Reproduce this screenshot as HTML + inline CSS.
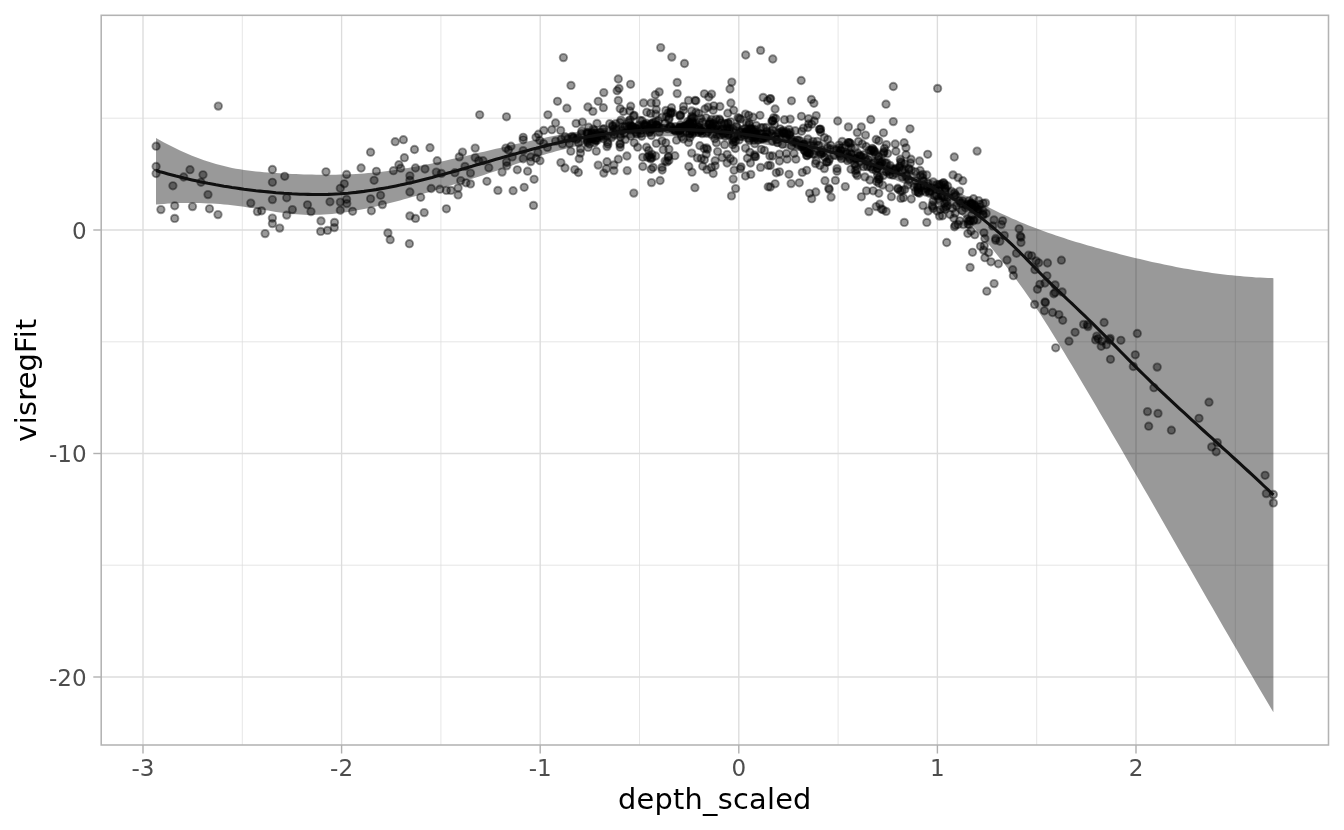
<!DOCTYPE html>
<html><head><meta charset="utf-8"><title>visregFit vs depth_scaled</title>
<style>
html,body{margin:0;padding:0;background:#fff;}
body{width:1344px;height:830px;overflow:hidden;font-family:"DejaVu Sans","Liberation Sans",sans-serif;}
svg{display:block}
svg text{font-family:"DejaVu Sans","Liberation Sans",sans-serif;}
.tk{font-size:23.04px;fill:#4d4d4d}
.tt{font-size:28.8px;fill:#000;letter-spacing:.25px}
.p circle{fill:#000;fill-opacity:.4;stroke:#000;stroke-opacity:.4;stroke-width:1.9}
</style></head><body>
<svg width="1344" height="830" viewBox="0 0 1344 830">
<rect width="1344" height="830" fill="#fff"/>
<g><line x1="242.3" x2="242.3" y1="15.3" y2="745.0" stroke="#dedede" stroke-width=".75"/><line x1="440.9" x2="440.9" y1="15.3" y2="745.0" stroke="#dedede" stroke-width=".75"/><line x1="639.5" x2="639.5" y1="15.3" y2="745.0" stroke="#dedede" stroke-width=".75"/><line x1="838.1" x2="838.1" y1="15.3" y2="745.0" stroke="#dedede" stroke-width=".75"/><line x1="1036.7" x2="1036.7" y1="15.3" y2="745.0" stroke="#dedede" stroke-width=".75"/><line x1="1235.3" x2="1235.3" y1="15.3" y2="745.0" stroke="#dedede" stroke-width=".75"/><line x1="101.2" x2="1328.5" y1="118.2" y2="118.2" stroke="#dedede" stroke-width=".75"/><line x1="101.2" x2="1328.5" y1="341.8" y2="341.8" stroke="#dedede" stroke-width=".75"/><line x1="101.2" x2="1328.5" y1="565.2" y2="565.2" stroke="#dedede" stroke-width=".75"/><line x1="143.0" x2="143.0" y1="15.3" y2="745.0" stroke="#dcdcdc" stroke-width="1.35"/><line x1="341.6" x2="341.6" y1="15.3" y2="745.0" stroke="#dcdcdc" stroke-width="1.35"/><line x1="540.2" x2="540.2" y1="15.3" y2="745.0" stroke="#dcdcdc" stroke-width="1.35"/><line x1="738.8" x2="738.8" y1="15.3" y2="745.0" stroke="#dcdcdc" stroke-width="1.35"/><line x1="937.4" x2="937.4" y1="15.3" y2="745.0" stroke="#dcdcdc" stroke-width="1.35"/><line x1="1136.0" x2="1136.0" y1="15.3" y2="745.0" stroke="#dcdcdc" stroke-width="1.35"/><line x1="101.2" x2="1328.5" y1="230.0" y2="230.0" stroke="#dcdcdc" stroke-width="1.35"/><line x1="101.2" x2="1328.5" y1="453.5" y2="453.5" stroke="#dcdcdc" stroke-width="1.35"/><line x1="101.2" x2="1328.5" y1="677.0" y2="677.0" stroke="#dcdcdc" stroke-width="1.35"/></g>
<path d="M156.0,138.0 L160.0,140.2 L164.0,142.4 L168.0,144.5 L172.0,146.5 L176.0,148.5 L180.0,150.4 L184.0,152.2 L188.0,154.0 L192.0,155.7 L196.0,157.3 L200.0,158.8 L204.0,160.2 L208.0,161.6 L212.0,162.8 L216.0,164.0 L220.0,165.1 L224.0,166.1 L228.0,167.1 L232.0,167.9 L236.0,168.7 L240.0,169.3 L244.0,169.9 L248.0,170.5 L252.0,171.0 L256.0,171.4 L260.0,171.8 L264.0,172.2 L268.0,172.5 L272.0,172.8 L276.0,173.0 L280.0,173.3 L284.0,173.5 L288.0,173.7 L292.0,173.9 L296.0,174.1 L300.0,174.3 L304.0,174.4 L308.0,174.5 L312.0,174.6 L316.0,174.7 L320.0,174.8 L324.0,174.8 L328.0,174.8 L332.0,174.8 L336.0,174.7 L340.0,174.6 L344.0,174.5 L348.0,174.4 L352.0,174.2 L356.0,174.0 L360.0,173.7 L364.0,173.5 L368.0,173.1 L372.0,172.8 L376.0,172.4 L380.0,171.9 L384.0,171.4 L388.0,170.9 L392.0,170.4 L396.0,169.8 L400.0,169.2 L404.0,168.6 L408.0,167.9 L412.0,167.2 L416.0,166.5 L420.0,165.8 L424.0,165.0 L428.0,164.2 L432.0,163.4 L436.0,162.6 L440.0,161.7 L444.0,160.9 L448.0,160.0 L452.0,159.1 L456.0,158.2 L460.0,157.3 L464.0,156.4 L468.0,155.4 L472.0,154.5 L476.0,153.6 L480.0,152.6 L484.0,151.7 L488.0,150.7 L492.0,149.8 L496.0,148.8 L500.0,147.9 L504.0,146.9 L508.0,146.0 L512.0,145.0 L516.0,144.1 L520.0,143.2 L524.0,142.3 L528.0,141.4 L532.0,140.5 L536.0,139.6 L540.0,138.7 L544.0,137.9 L548.0,137.1 L552.0,136.3 L556.0,135.5 L560.0,134.7 L564.0,134.0 L568.0,133.2 L572.0,132.5 L576.0,131.9 L580.0,131.2 L584.0,130.6 L588.0,130.0 L592.0,129.5 L596.0,128.9 L600.0,128.4 L604.0,127.9 L608.0,127.5 L612.0,127.0 L616.0,126.6 L620.0,126.3 L624.0,125.9 L628.0,125.6 L632.0,125.3 L636.0,125.0 L640.0,124.7 L644.0,124.5 L648.0,124.3 L652.0,124.2 L656.0,124.0 L660.0,123.9 L664.0,123.8 L668.0,123.7 L672.0,123.7 L676.0,123.7 L680.0,123.7 L684.0,123.8 L688.0,123.8 L692.0,123.9 L696.0,124.1 L700.0,124.2 L704.0,124.4 L708.0,124.6 L712.0,124.8 L716.0,125.1 L720.0,125.4 L724.0,125.7 L728.0,126.0 L732.0,126.4 L736.0,126.8 L740.0,127.2 L744.0,127.7 L748.0,128.1 L752.0,128.6 L756.0,129.2 L760.0,129.7 L764.0,130.3 L768.0,130.9 L772.0,131.6 L776.0,132.2 L780.0,132.9 L784.0,133.7 L788.0,134.4 L792.0,135.2 L796.0,136.0 L800.0,136.8 L804.0,137.7 L808.0,138.6 L812.0,139.5 L816.0,140.4 L820.0,141.4 L824.0,142.4 L828.0,143.4 L832.0,144.5 L836.0,145.6 L840.0,146.7 L844.0,147.8 L848.0,149.0 L852.0,150.2 L856.0,151.4 L860.0,152.6 L864.0,153.9 L868.0,155.2 L872.0,156.6 L876.0,157.9 L880.0,159.3 L884.0,160.7 L888.0,162.2 L892.0,163.7 L896.0,165.2 L900.0,166.7 L904.0,168.2 L908.0,169.8 L912.0,171.5 L916.0,173.1 L920.0,174.8 L924.0,176.5 L928.0,178.2 L932.0,180.0 L936.0,181.7 L940.0,183.5 L944.0,185.4 L948.0,187.2 L952.0,189.1 L956.0,191.0 L960.0,193.0 L964.0,195.0 L968.0,197.0 L972.0,199.0 L976.0,201.0 L980.0,203.0 L984.0,205.0 L988.0,207.0 L992.0,209.0 L996.0,211.0 L1000.0,212.9 L1004.0,214.7 L1008.0,216.6 L1012.0,218.4 L1016.0,220.1 L1020.0,221.9 L1024.0,223.5 L1028.0,225.2 L1032.0,226.7 L1036.0,228.3 L1040.0,229.8 L1044.0,231.3 L1048.0,232.7 L1052.0,234.1 L1056.0,235.5 L1060.0,236.8 L1064.0,238.1 L1068.0,239.4 L1072.0,240.7 L1076.0,241.9 L1080.0,243.1 L1084.0,244.3 L1088.0,245.4 L1092.0,246.6 L1096.0,247.7 L1100.0,248.8 L1104.0,249.9 L1108.0,251.0 L1112.0,252.1 L1116.0,253.1 L1120.0,254.2 L1124.0,255.2 L1128.0,256.2 L1132.0,257.2 L1136.0,258.2 L1140.0,259.1 L1144.0,260.1 L1148.0,261.0 L1152.0,261.9 L1156.0,262.8 L1160.0,263.6 L1164.0,264.5 L1168.0,265.3 L1172.0,266.1 L1176.0,266.9 L1180.0,267.7 L1184.0,268.4 L1188.0,269.1 L1192.0,269.8 L1196.0,270.5 L1200.0,271.1 L1204.0,271.7 L1208.0,272.3 L1212.0,272.9 L1216.0,273.4 L1220.0,274.0 L1224.0,274.4 L1228.0,274.9 L1232.0,275.3 L1236.0,275.8 L1240.0,276.1 L1244.0,276.5 L1248.0,276.8 L1252.0,277.1 L1256.0,277.4 L1260.0,277.6 L1264.0,277.8 L1268.0,278.0 L1272.0,278.1 L1273.4,278.2 L1273.4,712.3 L1272.0,709.9 L1268.0,703.2 L1264.0,696.4 L1260.0,689.7 L1256.0,682.9 L1252.0,676.0 L1248.0,669.2 L1244.0,662.4 L1240.0,655.5 L1236.0,648.6 L1232.0,641.7 L1228.0,634.8 L1224.0,627.9 L1220.0,621.0 L1216.0,614.1 L1212.0,607.1 L1208.0,600.2 L1204.0,593.2 L1200.0,586.3 L1196.0,579.3 L1192.0,572.3 L1188.0,565.3 L1184.0,558.4 L1180.0,551.4 L1176.0,544.4 L1172.0,537.4 L1168.0,530.5 L1164.0,523.5 L1160.0,516.5 L1156.0,509.5 L1152.0,502.6 L1148.0,495.6 L1144.0,488.7 L1140.0,481.7 L1136.0,474.8 L1132.0,467.9 L1128.0,460.9 L1124.0,454.0 L1120.0,447.1 L1116.0,440.2 L1112.0,433.4 L1108.0,426.5 L1104.0,419.7 L1100.0,412.9 L1096.0,406.1 L1092.0,399.3 L1088.0,392.5 L1084.0,385.8 L1080.0,379.0 L1076.0,372.3 L1072.0,365.6 L1068.0,359.0 L1064.0,352.3 L1060.0,345.7 L1056.0,339.2 L1052.0,332.7 L1048.0,326.2 L1044.0,319.9 L1040.0,313.7 L1036.0,307.7 L1032.0,301.7 L1028.0,295.9 L1024.0,290.3 L1020.0,284.7 L1016.0,279.3 L1012.0,274.0 L1008.0,268.7 L1004.0,263.6 L1000.0,258.5 L996.0,253.5 L992.0,248.5 L988.0,243.6 L984.0,238.8 L980.0,234.0 L976.0,229.4 L972.0,225.1 L968.0,221.0 L964.0,217.3 L960.0,213.9 L956.0,210.9 L952.0,208.1 L948.0,205.6 L944.0,203.2 L940.0,201.0 L936.0,198.9 L932.0,196.8 L928.0,194.8 L924.0,192.8 L920.0,190.9 L916.0,189.0 L912.0,187.2 L908.0,185.4 L904.0,183.6 L900.0,181.9 L896.0,180.3 L892.0,178.6 L888.0,177.1 L884.0,175.5 L880.0,174.1 L876.0,172.6 L872.0,171.2 L868.0,169.8 L864.0,168.5 L860.0,167.2 L856.0,165.9 L852.0,164.7 L848.0,163.4 L844.0,162.3 L840.0,161.1 L836.0,160.0 L832.0,158.9 L828.0,157.9 L824.0,156.9 L820.0,155.9 L816.0,154.9 L812.0,153.9 L808.0,153.0 L804.0,152.1 L800.0,151.2 L796.0,150.4 L792.0,149.5 L788.0,148.7 L784.0,147.9 L780.0,147.2 L776.0,146.4 L772.0,145.7 L768.0,145.0 L764.0,144.3 L760.0,143.7 L756.0,143.0 L752.0,142.4 L748.0,141.9 L744.0,141.3 L740.0,140.8 L736.0,140.3 L732.0,139.8 L728.0,139.4 L724.0,139.0 L720.0,138.6 L716.0,138.2 L712.0,137.9 L708.0,137.6 L704.0,137.3 L700.0,137.1 L696.0,136.9 L692.0,136.7 L688.0,136.5 L684.0,136.4 L680.0,136.3 L676.0,136.3 L672.0,136.2 L668.0,136.2 L664.0,136.3 L660.0,136.4 L656.0,136.5 L652.0,136.6 L648.0,136.8 L644.0,137.0 L640.0,137.3 L636.0,137.5 L632.0,137.9 L628.0,138.2 L624.0,138.6 L620.0,139.1 L616.0,139.5 L612.0,140.0 L608.0,140.6 L604.0,141.1 L600.0,141.8 L596.0,142.4 L592.0,143.1 L588.0,143.9 L584.0,144.6 L580.0,145.5 L576.0,146.3 L572.0,147.2 L568.0,148.2 L564.0,149.2 L560.0,150.2 L556.0,151.3 L552.0,152.4 L548.0,153.5 L544.0,154.7 L540.0,156.0 L536.0,157.3 L532.0,158.6 L528.0,160.0 L524.0,161.3 L520.0,162.7 L516.0,164.1 L512.0,165.5 L508.0,166.9 L504.0,168.2 L500.0,169.6 L496.0,170.9 L492.0,172.3 L488.0,173.6 L484.0,174.9 L480.0,176.2 L476.0,177.5 L472.0,178.7 L468.0,180.0 L464.0,181.3 L460.0,182.5 L456.0,183.8 L452.0,185.0 L448.0,186.3 L444.0,187.5 L440.0,188.7 L436.0,189.9 L432.0,191.2 L428.0,192.4 L424.0,193.5 L420.0,194.7 L416.0,195.9 L412.0,197.0 L408.0,198.2 L404.0,199.3 L400.0,200.4 L396.0,201.4 L392.0,202.5 L388.0,203.5 L384.0,204.5 L380.0,205.5 L376.0,206.4 L372.0,207.3 L368.0,208.2 L364.0,209.0 L360.0,209.8 L356.0,210.6 L352.0,211.2 L348.0,211.9 L344.0,212.5 L340.0,213.0 L336.0,213.5 L332.0,213.9 L328.0,214.2 L324.0,214.5 L320.0,214.7 L316.0,214.8 L312.0,214.9 L308.0,214.9 L304.0,214.8 L300.0,214.6 L296.0,214.3 L292.0,213.9 L288.0,213.5 L284.0,213.0 L280.0,212.5 L276.0,211.9 L272.0,211.3 L268.0,210.6 L264.0,210.0 L260.0,209.3 L256.0,208.6 L252.0,208.0 L248.0,207.4 L244.0,206.8 L240.0,206.2 L236.0,205.7 L232.0,205.3 L228.0,204.8 L224.0,204.5 L220.0,204.1 L216.0,203.8 L212.0,203.6 L208.0,203.4 L204.0,203.2 L200.0,203.1 L196.0,203.0 L192.0,203.0 L188.0,203.0 L184.0,203.0 L180.0,203.1 L176.0,203.3 L172.0,203.4 L168.0,203.6 L164.0,203.9 L160.0,204.2 L156.0,204.5Z" fill="#000" fill-opacity=".4"/>
<g class="p"><circle cx="218.3" cy="106.1" r="3.7"/><circle cx="156.1" cy="146.2" r="3.7"/><circle cx="156.1" cy="166.5" r="3.7"/><circle cx="156.1" cy="173.5" r="3.7"/><circle cx="190.0" cy="169.7" r="3.7"/><circle cx="183.7" cy="177.0" r="3.7"/><circle cx="203.0" cy="174.8" r="3.7"/><circle cx="201.0" cy="182.3" r="3.7"/><circle cx="172.9" cy="185.8" r="3.7"/><circle cx="208.0" cy="194.6" r="3.7"/><circle cx="160.9" cy="209.6" r="3.7"/><circle cx="174.7" cy="205.8" r="3.7"/><circle cx="174.7" cy="218.4" r="3.7"/><circle cx="192.5" cy="206.6" r="3.7"/><circle cx="209.5" cy="208.8" r="3.7"/><circle cx="218.0" cy="214.6" r="3.7"/><circle cx="272.4" cy="169.5" r="3.7"/><circle cx="284.7" cy="176.3" r="3.7"/><circle cx="272.4" cy="182.3" r="3.7"/><circle cx="272.4" cy="199.6" r="3.7"/><circle cx="286.7" cy="197.8" r="3.7"/><circle cx="250.8" cy="203.1" r="3.7"/><circle cx="257.4" cy="211.6" r="3.7"/><circle cx="261.6" cy="210.8" r="3.7"/><circle cx="292.4" cy="209.6" r="3.7"/><circle cx="286.7" cy="215.1" r="3.7"/><circle cx="272.4" cy="218.1" r="3.7"/><circle cx="272.4" cy="223.6" r="3.7"/><circle cx="279.7" cy="228.1" r="3.7"/><circle cx="265.1" cy="233.6" r="3.7"/><circle cx="307.5" cy="204.8" r="3.7"/><circle cx="311.0" cy="211.6" r="3.7"/><circle cx="326.0" cy="171.8" r="3.7"/><circle cx="330.0" cy="201.8" r="3.7"/><circle cx="321.0" cy="220.9" r="3.7"/><circle cx="320.7" cy="231.4" r="3.7"/><circle cx="327.5" cy="230.4" r="3.7"/><circle cx="334.5" cy="222.4" r="3.7"/><circle cx="334.3" cy="227.6" r="3.7"/><circle cx="346.6" cy="174.5" r="3.7"/><circle cx="344.3" cy="183.8" r="3.7"/><circle cx="340.3" cy="188.3" r="3.7"/><circle cx="346.6" cy="199.3" r="3.7"/><circle cx="340.3" cy="202.1" r="3.7"/><circle cx="346.8" cy="203.6" r="3.7"/><circle cx="340.3" cy="210.3" r="3.7"/><circle cx="352.6" cy="211.3" r="3.7"/><circle cx="361.1" cy="168.0" r="3.7"/><circle cx="370.6" cy="152.2" r="3.7"/><circle cx="376.4" cy="171.3" r="3.7"/><circle cx="374.1" cy="180.3" r="3.7"/><circle cx="370.6" cy="198.8" r="3.7"/><circle cx="380.6" cy="195.3" r="3.7"/><circle cx="382.4" cy="204.6" r="3.7"/><circle cx="371.4" cy="210.8" r="3.7"/><circle cx="387.9" cy="232.9" r="3.7"/><circle cx="390.2" cy="239.7" r="3.7"/><circle cx="395.2" cy="141.7" r="3.7"/><circle cx="403.4" cy="139.7" r="3.7"/><circle cx="404.4" cy="157.7" r="3.7"/><circle cx="398.9" cy="164.7" r="3.7"/><circle cx="393.4" cy="170.7" r="3.7"/><circle cx="400.7" cy="168.2" r="3.7"/><circle cx="414.5" cy="149.5" r="3.7"/><circle cx="415.5" cy="168.0" r="3.7"/><circle cx="409.9" cy="175.8" r="3.7"/><circle cx="409.9" cy="180.3" r="3.7"/><circle cx="409.9" cy="192.0" r="3.7"/><circle cx="420.7" cy="197.3" r="3.7"/><circle cx="409.9" cy="215.9" r="3.7"/><circle cx="415.5" cy="218.4" r="3.7"/><circle cx="424.2" cy="212.6" r="3.7"/><circle cx="409.4" cy="243.7" r="3.7"/><circle cx="430.0" cy="147.7" r="3.7"/><circle cx="425.0" cy="169.0" r="3.7"/><circle cx="431.2" cy="188.5" r="3.7"/><circle cx="437.2" cy="160.7" r="3.7"/><circle cx="436.3" cy="172.1" r="3.7"/><circle cx="441.4" cy="173.4" r="3.7"/><circle cx="439.9" cy="189.2" r="3.7"/><circle cx="446.4" cy="190.4" r="3.7"/><circle cx="450.9" cy="190.4" r="3.7"/><circle cx="458.1" cy="187.9" r="3.7"/><circle cx="458.1" cy="194.9" r="3.7"/><circle cx="446.4" cy="208.8" r="3.7"/><circle cx="459.3" cy="156.9" r="3.7"/><circle cx="462.5" cy="152.1" r="3.7"/><circle cx="465.0" cy="166.4" r="3.7"/><circle cx="470.5" cy="173.1" r="3.7"/><circle cx="454.9" cy="172.7" r="3.7"/><circle cx="460.7" cy="180.6" r="3.7"/><circle cx="466.0" cy="182.8" r="3.7"/><circle cx="470.5" cy="183.9" r="3.7"/><circle cx="475.2" cy="148.1" r="3.7"/><circle cx="475.2" cy="157.6" r="3.7"/><circle cx="478.7" cy="160.7" r="3.7"/><circle cx="483.1" cy="160.7" r="3.7"/><circle cx="479.7" cy="114.8" r="3.7"/><circle cx="488.8" cy="167.7" r="3.7"/><circle cx="486.9" cy="181.3" r="3.7"/><circle cx="497.9" cy="190.4" r="3.7"/><circle cx="502.1" cy="172.1" r="3.7"/><circle cx="506.5" cy="116.8" r="3.7"/><circle cx="505.9" cy="148.1" r="3.7"/><circle cx="511.0" cy="146.2" r="3.7"/><circle cx="508.4" cy="150.0" r="3.7"/><circle cx="512.2" cy="156.9" r="3.7"/><circle cx="506.5" cy="162.0" r="3.7"/><circle cx="506.8" cy="165.8" r="3.7"/><circle cx="517.3" cy="169.8" r="3.7"/><circle cx="513.1" cy="190.7" r="3.7"/><circle cx="523.2" cy="137.3" r="3.7"/><circle cx="523.2" cy="139.8" r="3.7"/><circle cx="523.2" cy="150.6" r="3.7"/><circle cx="523.2" cy="158.8" r="3.7"/><circle cx="527.6" cy="171.2" r="3.7"/><circle cx="530.8" cy="156.9" r="3.7"/><circle cx="530.8" cy="161.6" r="3.7"/><circle cx="524.2" cy="187.3" r="3.7"/><circle cx="534.1" cy="179.3" r="3.7"/><circle cx="533.5" cy="205.4" r="3.7"/><circle cx="536.0" cy="137.3" r="3.7"/><circle cx="538.5" cy="134.2" r="3.7"/><circle cx="539.8" cy="140.5" r="3.7"/><circle cx="537.9" cy="152.5" r="3.7"/><circle cx="536.0" cy="158.2" r="3.7"/><circle cx="540.0" cy="160.7" r="3.7"/><circle cx="543.8" cy="130.4" r="3.7"/><circle cx="543.6" cy="143.6" r="3.7"/><circle cx="547.4" cy="147.4" r="3.7"/><circle cx="547.9" cy="114.8" r="3.7"/><circle cx="551.8" cy="129.7" r="3.7"/><circle cx="555.6" cy="123.0" r="3.7"/><circle cx="560.7" cy="130.4" r="3.7"/><circle cx="557.5" cy="101.3" r="3.7"/><circle cx="566.9" cy="108.2" r="3.7"/><circle cx="555.6" cy="141.1" r="3.7"/><circle cx="561.3" cy="139.2" r="3.7"/><circle cx="565.1" cy="136.7" r="3.7"/><circle cx="560.9" cy="162.6" r="3.7"/><circle cx="565.0" cy="168.0" r="3.7"/><circle cx="569.5" cy="143.6" r="3.7"/><circle cx="570.8" cy="151.2" r="3.7"/><circle cx="574.8" cy="169.6" r="3.7"/><circle cx="578.4" cy="172.5" r="3.7"/><circle cx="576.1" cy="123.4" r="3.7"/><circle cx="582.4" cy="122.1" r="3.7"/><circle cx="581.8" cy="131.0" r="3.7"/><circle cx="578.0" cy="137.9" r="3.7"/><circle cx="578.6" cy="143.0" r="3.7"/><circle cx="580.5" cy="148.7" r="3.7"/><circle cx="580.5" cy="153.1" r="3.7"/><circle cx="588.1" cy="147.4" r="3.7"/><circle cx="587.9" cy="107.0" r="3.7"/><circle cx="592.9" cy="111.4" r="3.7"/><circle cx="598.2" cy="101.3" r="3.7"/><circle cx="597.0" cy="123.4" r="3.7"/><circle cx="593.2" cy="129.1" r="3.7"/><circle cx="595.7" cy="132.9" r="3.7"/><circle cx="593.2" cy="137.9" r="3.7"/><circle cx="597.0" cy="140.5" r="3.7"/><circle cx="596.3" cy="151.2" r="3.7"/><circle cx="598.2" cy="165.1" r="3.7"/><circle cx="588.7" cy="127.2" r="3.7"/><circle cx="591.9" cy="135.4" r="3.7"/><circle cx="594.4" cy="130.4" r="3.7"/><circle cx="660.7" cy="47.6" r="3.7"/><circle cx="671.8" cy="57.1" r="3.7"/><circle cx="684.5" cy="63.5" r="3.7"/><circle cx="745.7" cy="55.0" r="3.7"/><circle cx="760.6" cy="50.4" r="3.7"/><circle cx="618.3" cy="79.0" r="3.7"/><circle cx="630.6" cy="84.3" r="3.7"/><circle cx="619.0" cy="88.5" r="3.7"/><circle cx="617.1" cy="90.7" r="3.7"/><circle cx="603.8" cy="92.6" r="3.7"/><circle cx="618.3" cy="100.4" r="3.7"/><circle cx="603.4" cy="107.7" r="3.7"/><circle cx="620.2" cy="108.7" r="3.7"/><circle cx="630.7" cy="106.2" r="3.7"/><circle cx="623.4" cy="111.5" r="3.7"/><circle cx="629.7" cy="110.9" r="3.7"/><circle cx="634.2" cy="115.3" r="3.7"/><circle cx="677.2" cy="82.4" r="3.7"/><circle cx="677.2" cy="93.6" r="3.7"/><circle cx="659.2" cy="91.9" r="3.7"/><circle cx="655.3" cy="94.7" r="3.7"/><circle cx="643.6" cy="102.9" r="3.7"/><circle cx="651.2" cy="102.9" r="3.7"/><circle cx="656.3" cy="102.9" r="3.7"/><circle cx="656.3" cy="109.6" r="3.7"/><circle cx="646.8" cy="112.2" r="3.7"/><circle cx="650.6" cy="113.4" r="3.7"/><circle cx="655.7" cy="114.1" r="3.7"/><circle cx="662.2" cy="117.2" r="3.7"/><circle cx="671.5" cy="107.7" r="3.7"/><circle cx="668.3" cy="112.8" r="3.7"/><circle cx="672.7" cy="112.8" r="3.7"/><circle cx="679.7" cy="115.3" r="3.7"/><circle cx="683.5" cy="106.5" r="3.7"/><circle cx="683.5" cy="110.3" r="3.7"/><circle cx="688.5" cy="100.4" r="3.7"/><circle cx="695.1" cy="100.4" r="3.7"/><circle cx="695.9" cy="100.8" r="3.7"/><circle cx="691.7" cy="110.9" r="3.7"/><circle cx="696.1" cy="112.2" r="3.7"/><circle cx="698.7" cy="113.4" r="3.7"/><circle cx="704.4" cy="93.8" r="3.7"/><circle cx="708.8" cy="97.0" r="3.7"/><circle cx="711.6" cy="94.1" r="3.7"/><circle cx="705.0" cy="109.0" r="3.7"/><circle cx="708.1" cy="107.1" r="3.7"/><circle cx="713.8" cy="105.8" r="3.7"/><circle cx="719.9" cy="106.5" r="3.7"/><circle cx="713.2" cy="110.3" r="3.7"/><circle cx="706.0" cy="117.8" r="3.7"/><circle cx="719.5" cy="119.1" r="3.7"/><circle cx="731.8" cy="82.1" r="3.7"/><circle cx="730.0" cy="89.0" r="3.7"/><circle cx="730.9" cy="103.0" r="3.7"/><circle cx="733.7" cy="110.3" r="3.7"/><circle cx="727.8" cy="113.2" r="3.7"/><circle cx="763.2" cy="97.4" r="3.7"/><circle cx="767.6" cy="100.8" r="3.7"/><circle cx="770.0" cy="98.9" r="3.7"/><circle cx="745.5" cy="114.1" r="3.7"/><circle cx="748.6" cy="115.3" r="3.7"/><circle cx="760.0" cy="115.3" r="3.7"/><circle cx="739.1" cy="118.5" r="3.7"/><circle cx="753.0" cy="117.2" r="3.7"/><circle cx="607.0" cy="146.6" r="3.7"/><circle cx="607.0" cy="161.7" r="3.7"/><circle cx="603.8" cy="173.1" r="3.7"/><circle cx="606.3" cy="168.7" r="3.7"/><circle cx="613.9" cy="164.9" r="3.7"/><circle cx="613.9" cy="170.6" r="3.7"/><circle cx="618.3" cy="159.2" r="3.7"/><circle cx="626.9" cy="156.0" r="3.7"/><circle cx="627.2" cy="170.6" r="3.7"/><circle cx="633.8" cy="193.1" r="3.7"/><circle cx="620.2" cy="143.4" r="3.7"/><circle cx="620.2" cy="147.2" r="3.7"/><circle cx="634.2" cy="142.8" r="3.7"/><circle cx="637.7" cy="147.2" r="3.7"/><circle cx="625.3" cy="139.6" r="3.7"/><circle cx="642.8" cy="157.3" r="3.7"/><circle cx="642.8" cy="166.5" r="3.7"/><circle cx="646.5" cy="147.2" r="3.7"/><circle cx="648.7" cy="150.4" r="3.7"/><circle cx="651.9" cy="154.2" r="3.7"/><circle cx="647.4" cy="157.3" r="3.7"/><circle cx="651.9" cy="157.9" r="3.7"/><circle cx="655.7" cy="156.0" r="3.7"/><circle cx="651.2" cy="169.3" r="3.7"/><circle cx="653.1" cy="167.4" r="3.7"/><circle cx="662.0" cy="167.4" r="3.7"/><circle cx="662.2" cy="170.0" r="3.7"/><circle cx="651.5" cy="182.6" r="3.7"/><circle cx="660.1" cy="180.5" r="3.7"/><circle cx="656.3" cy="143.4" r="3.7"/><circle cx="663.2" cy="149.7" r="3.7"/><circle cx="668.9" cy="149.3" r="3.7"/><circle cx="665.8" cy="142.8" r="3.7"/><circle cx="674.9" cy="155.7" r="3.7"/><circle cx="668.3" cy="157.3" r="3.7"/><circle cx="665.1" cy="161.1" r="3.7"/><circle cx="668.9" cy="160.5" r="3.7"/><circle cx="676.5" cy="140.2" r="3.7"/><circle cx="662.0" cy="140.9" r="3.7"/><circle cx="683.5" cy="139.0" r="3.7"/><circle cx="688.5" cy="142.5" r="3.7"/><circle cx="691.7" cy="153.1" r="3.7"/><circle cx="699.9" cy="145.7" r="3.7"/><circle cx="707.5" cy="149.3" r="3.7"/><circle cx="706.2" cy="154.2" r="3.7"/><circle cx="697.4" cy="157.9" r="3.7"/><circle cx="701.2" cy="158.6" r="3.7"/><circle cx="704.4" cy="159.8" r="3.7"/><circle cx="688.8" cy="166.5" r="3.7"/><circle cx="692.0" cy="172.2" r="3.7"/><circle cx="702.7" cy="166.2" r="3.7"/><circle cx="706.9" cy="169.6" r="3.7"/><circle cx="711.3" cy="167.4" r="3.7"/><circle cx="715.1" cy="165.8" r="3.7"/><circle cx="713.2" cy="173.5" r="3.7"/><circle cx="715.1" cy="160.7" r="3.7"/><circle cx="694.9" cy="187.7" r="3.7"/><circle cx="717.6" cy="151.6" r="3.7"/><circle cx="716.4" cy="142.8" r="3.7"/><circle cx="722.1" cy="157.6" r="3.7"/><circle cx="727.1" cy="154.4" r="3.7"/><circle cx="730.3" cy="158.6" r="3.7"/><circle cx="727.1" cy="163.0" r="3.7"/><circle cx="733.4" cy="161.1" r="3.7"/><circle cx="724.6" cy="144.7" r="3.7"/><circle cx="732.8" cy="144.7" r="3.7"/><circle cx="735.3" cy="148.5" r="3.7"/><circle cx="734.1" cy="170.2" r="3.7"/><circle cx="733.2" cy="179.1" r="3.7"/><circle cx="735.6" cy="188.6" r="3.7"/><circle cx="731.5" cy="195.9" r="3.7"/><circle cx="741.0" cy="166.8" r="3.7"/><circle cx="740.4" cy="168.7" r="3.7"/><circle cx="745.5" cy="176.0" r="3.7"/><circle cx="750.8" cy="174.4" r="3.7"/><circle cx="745.5" cy="148.1" r="3.7"/><circle cx="749.9" cy="152.3" r="3.7"/><circle cx="747.4" cy="158.3" r="3.7"/><circle cx="750.5" cy="163.0" r="3.7"/><circle cx="755.6" cy="156.7" r="3.7"/><circle cx="760.6" cy="167.4" r="3.7"/><circle cx="761.3" cy="149.3" r="3.7"/><circle cx="764.4" cy="150.4" r="3.7"/><circle cx="768.2" cy="165.5" r="3.7"/><circle cx="768.2" cy="186.8" r="3.7"/><circle cx="769.9" cy="156.0" r="3.7"/><circle cx="772.8" cy="59.0" r="3.7"/><circle cx="801.2" cy="80.5" r="3.7"/><circle cx="770.6" cy="98.6" r="3.7"/><circle cx="791.5" cy="100.8" r="3.7"/><circle cx="811.4" cy="99.5" r="3.7"/><circle cx="813.9" cy="103.3" r="3.7"/><circle cx="775.1" cy="109.0" r="3.7"/><circle cx="801.4" cy="116.3" r="3.7"/><circle cx="816.2" cy="115.6" r="3.7"/><circle cx="808.6" cy="118.7" r="3.7"/><circle cx="784.5" cy="119.7" r="3.7"/><circle cx="790.2" cy="119.1" r="3.7"/><circle cx="775.7" cy="118.5" r="3.7"/><circle cx="814.3" cy="121.0" r="3.7"/><circle cx="811.7" cy="124.2" r="3.7"/><circle cx="772.5" cy="121.0" r="3.7"/><circle cx="837.7" cy="121.0" r="3.7"/><circle cx="870.8" cy="119.5" r="3.7"/><circle cx="886.0" cy="104.2" r="3.7"/><circle cx="893.3" cy="86.5" r="3.7"/><circle cx="893.3" cy="121.6" r="3.7"/><circle cx="937.6" cy="88.4" r="3.7"/><circle cx="848.4" cy="126.9" r="3.7"/><circle cx="861.3" cy="126.9" r="3.7"/><circle cx="857.3" cy="132.6" r="3.7"/><circle cx="865.5" cy="135.1" r="3.7"/><circle cx="883.5" cy="132.8" r="3.7"/><circle cx="910.0" cy="128.8" r="3.7"/><circle cx="807.9" cy="127.5" r="3.7"/><circle cx="801.6" cy="131.3" r="3.7"/><circle cx="820.0" cy="129.4" r="3.7"/><circle cx="820.6" cy="132.0" r="3.7"/><circle cx="824.4" cy="137.6" r="3.7"/><circle cx="795.3" cy="130.7" r="3.7"/><circle cx="789.0" cy="129.4" r="3.7"/><circle cx="780.1" cy="128.8" r="3.7"/><circle cx="772.5" cy="130.1" r="3.7"/><circle cx="777.6" cy="142.7" r="3.7"/><circle cx="783.9" cy="132.6" r="3.7"/><circle cx="789.0" cy="135.1" r="3.7"/><circle cx="775.1" cy="136.4" r="3.7"/><circle cx="799.1" cy="140.2" r="3.7"/><circle cx="807.9" cy="138.9" r="3.7"/><circle cx="813.0" cy="141.4" r="3.7"/><circle cx="807.9" cy="152.8" r="3.7"/><circle cx="806.7" cy="155.4" r="3.7"/><circle cx="804.2" cy="150.3" r="3.7"/><circle cx="821.9" cy="150.3" r="3.7"/><circle cx="823.1" cy="152.8" r="3.7"/><circle cx="830.7" cy="145.2" r="3.7"/><circle cx="842.1" cy="141.4" r="3.7"/><circle cx="845.9" cy="145.2" r="3.7"/><circle cx="849.7" cy="142.7" r="3.7"/><circle cx="851.0" cy="147.8" r="3.7"/><circle cx="840.8" cy="150.3" r="3.7"/><circle cx="845.9" cy="154.1" r="3.7"/><circle cx="858.5" cy="141.4" r="3.7"/><circle cx="862.3" cy="144.0" r="3.7"/><circle cx="866.1" cy="146.5" r="3.7"/><circle cx="861.1" cy="156.6" r="3.7"/><circle cx="871.2" cy="150.3" r="3.7"/><circle cx="875.0" cy="151.6" r="3.7"/><circle cx="876.2" cy="139.5" r="3.7"/><circle cx="878.8" cy="140.8" r="3.7"/><circle cx="883.8" cy="151.6" r="3.7"/><circle cx="887.6" cy="153.5" r="3.7"/><circle cx="886.4" cy="144.6" r="3.7"/><circle cx="895.2" cy="144.0" r="3.7"/><circle cx="895.9" cy="151.3" r="3.7"/><circle cx="904.1" cy="142.7" r="3.7"/><circle cx="906.0" cy="147.8" r="3.7"/><circle cx="906.0" cy="154.7" r="3.7"/><circle cx="900.3" cy="159.2" r="3.7"/><circle cx="901.5" cy="162.9" r="3.7"/><circle cx="911.0" cy="159.2" r="3.7"/><circle cx="910.4" cy="162.9" r="3.7"/><circle cx="919.5" cy="161.0" r="3.7"/><circle cx="927.7" cy="154.3" r="3.7"/><circle cx="926.8" cy="175.0" r="3.7"/><circle cx="920.5" cy="175.6" r="3.7"/><circle cx="915.5" cy="171.8" r="3.7"/><circle cx="909.1" cy="169.3" r="3.7"/><circle cx="902.2" cy="176.9" r="3.7"/><circle cx="904.1" cy="169.3" r="3.7"/><circle cx="890.2" cy="165.5" r="3.7"/><circle cx="885.1" cy="162.9" r="3.7"/><circle cx="886.4" cy="171.8" r="3.7"/><circle cx="877.5" cy="168.6" r="3.7"/><circle cx="880.0" cy="161.7" r="3.7"/><circle cx="772.5" cy="156.0" r="3.7"/><circle cx="779.5" cy="154.1" r="3.7"/><circle cx="786.4" cy="153.5" r="3.7"/><circle cx="794.0" cy="153.5" r="3.7"/><circle cx="779.5" cy="161.0" r="3.7"/><circle cx="787.1" cy="159.2" r="3.7"/><circle cx="795.9" cy="159.2" r="3.7"/><circle cx="770.3" cy="165.5" r="3.7"/><circle cx="776.3" cy="172.8" r="3.7"/><circle cx="779.5" cy="171.8" r="3.7"/><circle cx="789.0" cy="174.3" r="3.7"/><circle cx="802.3" cy="172.4" r="3.7"/><circle cx="806.7" cy="170.3" r="3.7"/><circle cx="775.1" cy="183.8" r="3.7"/><circle cx="770.3" cy="187.0" r="3.7"/><circle cx="791.1" cy="183.6" r="3.7"/><circle cx="799.3" cy="182.8" r="3.7"/><circle cx="809.6" cy="193.3" r="3.7"/><circle cx="815.8" cy="192.0" r="3.7"/><circle cx="811.7" cy="198.7" r="3.7"/><circle cx="816.2" cy="161.0" r="3.7"/><circle cx="815.5" cy="163.6" r="3.7"/><circle cx="824.4" cy="168.6" r="3.7"/><circle cx="820.0" cy="165.5" r="3.7"/><circle cx="826.9" cy="161.7" r="3.7"/><circle cx="829.4" cy="159.2" r="3.7"/><circle cx="837.0" cy="168.6" r="3.7"/><circle cx="837.0" cy="171.2" r="3.7"/><circle cx="825.0" cy="180.7" r="3.7"/><circle cx="835.4" cy="180.4" r="3.7"/><circle cx="828.8" cy="188.2" r="3.7"/><circle cx="829.2" cy="189.5" r="3.7"/><circle cx="831.1" cy="197.1" r="3.7"/><circle cx="845.3" cy="186.6" r="3.7"/><circle cx="851.0" cy="169.3" r="3.7"/><circle cx="854.7" cy="164.2" r="3.7"/><circle cx="857.3" cy="175.6" r="3.7"/><circle cx="856.0" cy="173.7" r="3.7"/><circle cx="864.9" cy="176.9" r="3.7"/><circle cx="869.9" cy="180.0" r="3.7"/><circle cx="863.6" cy="166.7" r="3.7"/><circle cx="867.4" cy="166.7" r="3.7"/><circle cx="877.5" cy="175.6" r="3.7"/><circle cx="878.1" cy="179.4" r="3.7"/><circle cx="878.8" cy="183.2" r="3.7"/><circle cx="882.6" cy="185.1" r="3.7"/><circle cx="883.2" cy="175.6" r="3.7"/><circle cx="861.4" cy="196.8" r="3.7"/><circle cx="866.5" cy="190.8" r="3.7"/><circle cx="873.1" cy="190.8" r="3.7"/><circle cx="878.8" cy="193.3" r="3.7"/><circle cx="889.5" cy="188.0" r="3.7"/><circle cx="891.4" cy="196.7" r="3.7"/><circle cx="897.8" cy="188.2" r="3.7"/><circle cx="900.3" cy="190.8" r="3.7"/><circle cx="904.7" cy="189.5" r="3.7"/><circle cx="900.9" cy="198.4" r="3.7"/><circle cx="903.4" cy="197.7" r="3.7"/><circle cx="911.3" cy="199.0" r="3.7"/><circle cx="876.2" cy="206.6" r="3.7"/><circle cx="879.8" cy="204.1" r="3.7"/><circle cx="883.0" cy="209.7" r="3.7"/><circle cx="886.1" cy="211.4" r="3.7"/><circle cx="868.9" cy="211.6" r="3.7"/><circle cx="904.3" cy="222.4" r="3.7"/><circle cx="926.8" cy="222.4" r="3.7"/><circle cx="923.0" cy="205.6" r="3.7"/><circle cx="928.1" cy="211.0" r="3.7"/><circle cx="933.2" cy="200.9" r="3.7"/><circle cx="933.2" cy="208.5" r="3.7"/><circle cx="937.0" cy="211.0" r="3.7"/><circle cx="939.5" cy="216.1" r="3.7"/><circle cx="914.2" cy="187.0" r="3.7"/><circle cx="918.0" cy="189.5" r="3.7"/><circle cx="919.3" cy="193.3" r="3.7"/><circle cx="921.8" cy="190.8" r="3.7"/><circle cx="925.6" cy="192.0" r="3.7"/><circle cx="929.4" cy="193.3" r="3.7"/><circle cx="933.2" cy="181.9" r="3.7"/><circle cx="937.0" cy="184.4" r="3.7"/><circle cx="939.5" cy="190.8" r="3.7"/><circle cx="934.4" cy="195.8" r="3.7"/><circle cx="939.5" cy="200.9" r="3.7"/><circle cx="563.4" cy="57.6" r="3.7"/><circle cx="571.0" cy="85.4" r="3.7"/><circle cx="881.3" cy="209.0" r="3.7"/><circle cx="954.3" cy="157.0" r="3.7"/><circle cx="977.1" cy="151.1" r="3.7"/><circle cx="953.0" cy="174.9" r="3.7"/><circle cx="958.1" cy="177.6" r="3.7"/><circle cx="962.8" cy="180.7" r="3.7"/><circle cx="943.8" cy="182.9" r="3.7"/><circle cx="947.6" cy="186.0" r="3.7"/><circle cx="941.3" cy="184.2" r="3.7"/><circle cx="945.1" cy="187.9" r="3.7"/><circle cx="941.3" cy="195.5" r="3.7"/><circle cx="959.6" cy="191.1" r="3.7"/><circle cx="954.5" cy="193.0" r="3.7"/><circle cx="973.5" cy="198.7" r="3.7"/><circle cx="978.6" cy="200.6" r="3.7"/><circle cx="985.5" cy="202.9" r="3.7"/><circle cx="969.1" cy="200.6" r="3.7"/><circle cx="971.6" cy="204.4" r="3.7"/><circle cx="975.4" cy="206.9" r="3.7"/><circle cx="979.2" cy="209.4" r="3.7"/><circle cx="983.0" cy="210.7" r="3.7"/><circle cx="983.0" cy="214.5" r="3.7"/><circle cx="977.9" cy="212.0" r="3.7"/><circle cx="972.9" cy="209.4" r="3.7"/><circle cx="966.6" cy="205.7" r="3.7"/><circle cx="959.0" cy="200.6" r="3.7"/><circle cx="956.4" cy="205.7" r="3.7"/><circle cx="952.6" cy="208.2" r="3.7"/><circle cx="947.6" cy="205.7" r="3.7"/><circle cx="943.8" cy="208.2" r="3.7"/><circle cx="940.3" cy="209.4" r="3.7"/><circle cx="950.1" cy="214.5" r="3.7"/><circle cx="942.5" cy="215.8" r="3.7"/><circle cx="953.9" cy="218.3" r="3.7"/><circle cx="959.6" cy="220.8" r="3.7"/><circle cx="962.1" cy="210.7" r="3.7"/><circle cx="955.2" cy="213.2" r="3.7"/><circle cx="967.2" cy="218.9" r="3.7"/><circle cx="970.4" cy="220.8" r="3.7"/><circle cx="973.5" cy="220.8" r="3.7"/><circle cx="967.8" cy="224.0" r="3.7"/><circle cx="963.4" cy="224.6" r="3.7"/><circle cx="954.5" cy="226.8" r="3.7"/><circle cx="971.0" cy="231.0" r="3.7"/><circle cx="967.8" cy="233.5" r="3.7"/><circle cx="974.8" cy="234.7" r="3.7"/><circle cx="994.0" cy="219.9" r="3.7"/><circle cx="1002.6" cy="220.8" r="3.7"/><circle cx="1001.3" cy="224.6" r="3.7"/><circle cx="983.9" cy="232.8" r="3.7"/><circle cx="984.9" cy="238.5" r="3.7"/><circle cx="995.7" cy="238.5" r="3.7"/><circle cx="1004.3" cy="235.4" r="3.7"/><circle cx="1019.1" cy="228.8" r="3.7"/><circle cx="1020.3" cy="236.0" r="3.7"/><circle cx="1021.0" cy="237.3" r="3.7"/><circle cx="946.7" cy="242.5" r="3.7"/><circle cx="972.5" cy="252.3" r="3.7"/><circle cx="980.5" cy="246.3" r="3.7"/><circle cx="984.3" cy="245.7" r="3.7"/><circle cx="983.6" cy="250.1" r="3.7"/><circle cx="988.7" cy="252.6" r="3.7"/><circle cx="984.9" cy="257.7" r="3.7"/><circle cx="991.0" cy="261.8" r="3.7"/><circle cx="998.4" cy="263.8" r="3.7"/><circle cx="970.1" cy="267.4" r="3.7"/><circle cx="995.7" cy="240.3" r="3.7"/><circle cx="1021.0" cy="242.5" r="3.7"/><circle cx="1016.5" cy="253.3" r="3.7"/><circle cx="1028.5" cy="255.2" r="3.7"/><circle cx="1031.7" cy="255.8" r="3.7"/><circle cx="1036.1" cy="260.9" r="3.7"/><circle cx="1038.7" cy="262.8" r="3.7"/><circle cx="1034.9" cy="269.7" r="3.7"/><circle cx="1047.5" cy="263.0" r="3.7"/><circle cx="1061.4" cy="260.2" r="3.7"/><circle cx="1007.0" cy="260.0" r="3.7"/><circle cx="1012.7" cy="269.7" r="3.7"/><circle cx="1013.4" cy="275.7" r="3.7"/><circle cx="994.1" cy="283.6" r="3.7"/><circle cx="986.8" cy="291.2" r="3.7"/><circle cx="1046.9" cy="275.8" r="3.7"/><circle cx="1045.0" cy="283.0" r="3.7"/><circle cx="1039.9" cy="284.3" r="3.7"/><circle cx="1037.4" cy="289.3" r="3.7"/><circle cx="1055.1" cy="284.9" r="3.7"/><circle cx="1062.1" cy="291.9" r="3.7"/><circle cx="1053.8" cy="293.8" r="3.7"/><circle cx="1055.1" cy="292.5" r="3.7"/><circle cx="1045.0" cy="302.0" r="3.7"/><circle cx="1045.4" cy="302.6" r="3.7"/><circle cx="1034.6" cy="304.5" r="3.7"/><circle cx="1044.4" cy="310.8" r="3.7"/><circle cx="1052.6" cy="312.5" r="3.7"/><circle cx="1058.9" cy="314.6" r="3.7"/><circle cx="1062.7" cy="320.3" r="3.7"/><circle cx="1083.6" cy="324.4" r="3.7"/><circle cx="1087.4" cy="324.7" r="3.7"/><circle cx="1088.0" cy="326.6" r="3.7"/><circle cx="1104.1" cy="322.5" r="3.7"/><circle cx="1075.1" cy="332.3" r="3.7"/><circle cx="1069.0" cy="341.2" r="3.7"/><circle cx="1096.8" cy="336.1" r="3.7"/><circle cx="1098.1" cy="338.7" r="3.7"/><circle cx="1095.6" cy="339.9" r="3.7"/><circle cx="1101.9" cy="341.2" r="3.7"/><circle cx="1109.5" cy="339.9" r="3.7"/><circle cx="1110.2" cy="338.4" r="3.7"/><circle cx="1120.9" cy="340.3" r="3.7"/><circle cx="1137.3" cy="333.5" r="3.7"/><circle cx="1135.3" cy="354.8" r="3.7"/><circle cx="1110.5" cy="359.3" r="3.7"/><circle cx="1133.3" cy="366.5" r="3.7"/><circle cx="1157.2" cy="367.1" r="3.7"/><circle cx="1153.9" cy="387.7" r="3.7"/><circle cx="1209.0" cy="402.2" r="3.7"/><circle cx="1147.5" cy="411.6" r="3.7"/><circle cx="1158.0" cy="413.4" r="3.7"/><circle cx="1199.0" cy="418.3" r="3.7"/><circle cx="1148.7" cy="426.2" r="3.7"/><circle cx="1171.4" cy="430.2" r="3.7"/><circle cx="1106.4" cy="344.7" r="3.7"/><circle cx="1101.2" cy="346.3" r="3.7"/><circle cx="1217.3" cy="442.6" r="3.7"/><circle cx="1211.7" cy="446.9" r="3.7"/><circle cx="1216.2" cy="451.8" r="3.7"/><circle cx="1265.1" cy="475.3" r="3.7"/><circle cx="1266.3" cy="493.6" r="3.7"/><circle cx="1273.4" cy="494.5" r="3.7"/><circle cx="1273.4" cy="502.9" r="3.7"/><circle cx="1055.7" cy="347.8" r="3.7"/><circle cx="572.1" cy="136.4" r="3.7"/><circle cx="573.2" cy="137.4" r="3.7"/><circle cx="573.3" cy="138.2" r="3.7"/><circle cx="576.4" cy="139.4" r="3.7"/><circle cx="567.9" cy="138.9" r="3.7"/><circle cx="562.4" cy="144.1" r="3.7"/><circle cx="586.9" cy="132.5" r="3.7"/><circle cx="607.6" cy="142.2" r="3.7"/><circle cx="599.5" cy="135.5" r="3.7"/><circle cx="589.5" cy="144.0" r="3.7"/><circle cx="587.3" cy="139.4" r="3.7"/><circle cx="590.2" cy="138.4" r="3.7"/><circle cx="596.2" cy="138.5" r="3.7"/><circle cx="595.7" cy="140.5" r="3.7"/><circle cx="600.1" cy="132.3" r="3.7"/><circle cx="597.0" cy="134.7" r="3.7"/><circle cx="592.1" cy="133.8" r="3.7"/><circle cx="607.9" cy="144.3" r="3.7"/><circle cx="601.6" cy="136.4" r="3.7"/><circle cx="592.9" cy="138.4" r="3.7"/><circle cx="587.5" cy="142.5" r="3.7"/><circle cx="602.9" cy="129.3" r="3.7"/><circle cx="594.5" cy="142.8" r="3.7"/><circle cx="607.1" cy="135.9" r="3.7"/><circle cx="590.6" cy="138.2" r="3.7"/><circle cx="594.7" cy="140.0" r="3.7"/><circle cx="587.6" cy="133.4" r="3.7"/><circle cx="591.9" cy="132.4" r="3.7"/><circle cx="587.9" cy="133.0" r="3.7"/><circle cx="588.6" cy="138.7" r="3.7"/><circle cx="587.3" cy="140.9" r="3.7"/><circle cx="603.5" cy="138.8" r="3.7"/><circle cx="680.5" cy="133.4" r="3.7"/><circle cx="638.9" cy="128.4" r="3.7"/><circle cx="712.3" cy="126.4" r="3.7"/><circle cx="626.9" cy="126.6" r="3.7"/><circle cx="651.7" cy="129.6" r="3.7"/><circle cx="765.3" cy="136.8" r="3.7"/><circle cx="751.3" cy="129.3" r="3.7"/><circle cx="642.1" cy="120.7" r="3.7"/><circle cx="712.0" cy="135.1" r="3.7"/><circle cx="624.3" cy="133.3" r="3.7"/><circle cx="649.8" cy="127.8" r="3.7"/><circle cx="733.2" cy="129.0" r="3.7"/><circle cx="619.9" cy="134.0" r="3.7"/><circle cx="622.6" cy="126.8" r="3.7"/><circle cx="705.4" cy="126.7" r="3.7"/><circle cx="686.4" cy="131.4" r="3.7"/><circle cx="701.1" cy="130.4" r="3.7"/><circle cx="633.0" cy="126.7" r="3.7"/><circle cx="755.2" cy="135.4" r="3.7"/><circle cx="638.7" cy="125.2" r="3.7"/><circle cx="727.8" cy="133.5" r="3.7"/><circle cx="761.9" cy="133.7" r="3.7"/><circle cx="750.9" cy="129.1" r="3.7"/><circle cx="624.8" cy="126.6" r="3.7"/><circle cx="614.3" cy="134.5" r="3.7"/><circle cx="722.1" cy="129.0" r="3.7"/><circle cx="649.6" cy="131.1" r="3.7"/><circle cx="655.5" cy="121.8" r="3.7"/><circle cx="636.4" cy="128.5" r="3.7"/><circle cx="645.0" cy="126.4" r="3.7"/><circle cx="698.6" cy="132.3" r="3.7"/><circle cx="653.4" cy="122.4" r="3.7"/><circle cx="756.6" cy="134.3" r="3.7"/><circle cx="651.6" cy="128.9" r="3.7"/><circle cx="680.2" cy="130.5" r="3.7"/><circle cx="667.7" cy="128.7" r="3.7"/><circle cx="700.7" cy="131.5" r="3.7"/><circle cx="752.3" cy="136.9" r="3.7"/><circle cx="766.8" cy="131.5" r="3.7"/><circle cx="702.7" cy="122.0" r="3.7"/><circle cx="630.7" cy="130.2" r="3.7"/><circle cx="755.5" cy="134.1" r="3.7"/><circle cx="721.6" cy="130.8" r="3.7"/><circle cx="711.1" cy="128.7" r="3.7"/><circle cx="686.1" cy="127.2" r="3.7"/><circle cx="769.9" cy="131.9" r="3.7"/><circle cx="620.2" cy="122.4" r="3.7"/><circle cx="753.8" cy="131.3" r="3.7"/><circle cx="727.4" cy="127.8" r="3.7"/><circle cx="756.2" cy="125.5" r="3.7"/><circle cx="665.0" cy="123.3" r="3.7"/><circle cx="749.1" cy="123.1" r="3.7"/><circle cx="675.6" cy="130.1" r="3.7"/><circle cx="700.8" cy="118.6" r="3.7"/><circle cx="709.2" cy="123.9" r="3.7"/><circle cx="706.6" cy="133.1" r="3.7"/><circle cx="621.0" cy="120.1" r="3.7"/><circle cx="726.0" cy="124.0" r="3.7"/><circle cx="702.1" cy="133.6" r="3.7"/><circle cx="679.4" cy="128.7" r="3.7"/><circle cx="729.5" cy="128.8" r="3.7"/><circle cx="612.8" cy="126.5" r="3.7"/><circle cx="645.3" cy="124.9" r="3.7"/><circle cx="721.1" cy="122.8" r="3.7"/><circle cx="757.1" cy="134.3" r="3.7"/><circle cx="649.4" cy="132.3" r="3.7"/><circle cx="717.9" cy="129.8" r="3.7"/><circle cx="640.8" cy="133.8" r="3.7"/><circle cx="714.9" cy="138.7" r="3.7"/><circle cx="679.6" cy="131.1" r="3.7"/><circle cx="715.9" cy="126.5" r="3.7"/><circle cx="640.2" cy="120.4" r="3.7"/><circle cx="756.1" cy="137.8" r="3.7"/><circle cx="750.6" cy="128.2" r="3.7"/><circle cx="659.3" cy="132.1" r="3.7"/><circle cx="630.1" cy="119.8" r="3.7"/><circle cx="745.5" cy="132.7" r="3.7"/><circle cx="723.2" cy="133.8" r="3.7"/><circle cx="635.4" cy="127.7" r="3.7"/><circle cx="681.0" cy="127.1" r="3.7"/><circle cx="675.1" cy="131.0" r="3.7"/><circle cx="709.4" cy="124.5" r="3.7"/><circle cx="743.9" cy="132.4" r="3.7"/><circle cx="767.1" cy="133.9" r="3.7"/><circle cx="613.1" cy="131.7" r="3.7"/><circle cx="749.4" cy="140.6" r="3.7"/><circle cx="700.4" cy="130.3" r="3.7"/><circle cx="658.1" cy="128.0" r="3.7"/><circle cx="630.0" cy="128.4" r="3.7"/><circle cx="681.7" cy="136.9" r="3.7"/><circle cx="646.5" cy="129.7" r="3.7"/><circle cx="630.8" cy="136.0" r="3.7"/><circle cx="680.3" cy="129.6" r="3.7"/><circle cx="710.1" cy="123.8" r="3.7"/><circle cx="763.3" cy="127.6" r="3.7"/><circle cx="718.9" cy="131.3" r="3.7"/><circle cx="636.9" cy="134.2" r="3.7"/><circle cx="609.7" cy="123.7" r="3.7"/><circle cx="637.0" cy="130.2" r="3.7"/><circle cx="652.1" cy="123.6" r="3.7"/><circle cx="692.3" cy="134.3" r="3.7"/><circle cx="707.5" cy="128.9" r="3.7"/><circle cx="736.3" cy="126.3" r="3.7"/><circle cx="754.8" cy="143.7" r="3.7"/><circle cx="725.0" cy="136.2" r="3.7"/><circle cx="629.0" cy="122.7" r="3.7"/><circle cx="755.4" cy="135.9" r="3.7"/><circle cx="669.0" cy="118.2" r="3.7"/><circle cx="737.1" cy="127.1" r="3.7"/><circle cx="761.0" cy="127.7" r="3.7"/><circle cx="641.2" cy="130.2" r="3.7"/><circle cx="725.0" cy="133.1" r="3.7"/><circle cx="724.3" cy="123.5" r="3.7"/><circle cx="766.3" cy="127.4" r="3.7"/><circle cx="695.0" cy="129.1" r="3.7"/><circle cx="755.4" cy="129.6" r="3.7"/><circle cx="746.6" cy="131.4" r="3.7"/><circle cx="679.4" cy="129.3" r="3.7"/><circle cx="697.1" cy="128.8" r="3.7"/><circle cx="612.6" cy="125.4" r="3.7"/><circle cx="739.1" cy="139.9" r="3.7"/><circle cx="636.0" cy="132.4" r="3.7"/><circle cx="662.3" cy="128.3" r="3.7"/><circle cx="632.1" cy="126.5" r="3.7"/><circle cx="691.7" cy="126.3" r="3.7"/><circle cx="719.7" cy="120.2" r="3.7"/><circle cx="621.9" cy="130.7" r="3.7"/><circle cx="643.9" cy="124.3" r="3.7"/><circle cx="726.1" cy="129.5" r="3.7"/><circle cx="711.5" cy="119.4" r="3.7"/><circle cx="698.7" cy="126.8" r="3.7"/><circle cx="658.5" cy="120.7" r="3.7"/><circle cx="753.9" cy="140.2" r="3.7"/><circle cx="641.7" cy="136.3" r="3.7"/><circle cx="692.9" cy="117.3" r="3.7"/><circle cx="700.8" cy="130.2" r="3.7"/><circle cx="689.5" cy="133.7" r="3.7"/><circle cx="691.6" cy="130.2" r="3.7"/><circle cx="672.9" cy="129.6" r="3.7"/><circle cx="687.5" cy="121.7" r="3.7"/><circle cx="719.9" cy="135.3" r="3.7"/><circle cx="675.0" cy="130.1" r="3.7"/><circle cx="763.0" cy="138.6" r="3.7"/><circle cx="684.7" cy="125.8" r="3.7"/><circle cx="628.6" cy="121.1" r="3.7"/><circle cx="753.9" cy="137.4" r="3.7"/><circle cx="685.2" cy="126.4" r="3.7"/><circle cx="708.1" cy="131.7" r="3.7"/><circle cx="757.9" cy="140.2" r="3.7"/><circle cx="611.7" cy="137.6" r="3.7"/><circle cx="803.0" cy="145.5" r="3.7"/><circle cx="824.8" cy="157.3" r="3.7"/><circle cx="830.4" cy="149.5" r="3.7"/><circle cx="894.3" cy="170.0" r="3.7"/><circle cx="790.9" cy="138.0" r="3.7"/><circle cx="803.6" cy="144.3" r="3.7"/><circle cx="860.2" cy="155.5" r="3.7"/><circle cx="840.3" cy="155.9" r="3.7"/><circle cx="860.0" cy="161.7" r="3.7"/><circle cx="877.3" cy="168.4" r="3.7"/><circle cx="878.5" cy="156.4" r="3.7"/><circle cx="874.0" cy="162.7" r="3.7"/><circle cx="915.6" cy="180.7" r="3.7"/><circle cx="907.8" cy="184.9" r="3.7"/><circle cx="923.5" cy="181.3" r="3.7"/><circle cx="926.9" cy="188.5" r="3.7"/><circle cx="807.1" cy="155.8" r="3.7"/><circle cx="792.8" cy="142.0" r="3.7"/><circle cx="810.7" cy="145.6" r="3.7"/><circle cx="786.5" cy="137.0" r="3.7"/><circle cx="911.5" cy="170.3" r="3.7"/><circle cx="791.4" cy="146.0" r="3.7"/><circle cx="838.5" cy="153.1" r="3.7"/><circle cx="804.2" cy="143.8" r="3.7"/><circle cx="789.6" cy="134.5" r="3.7"/><circle cx="856.0" cy="158.9" r="3.7"/><circle cx="886.6" cy="162.9" r="3.7"/><circle cx="802.1" cy="146.3" r="3.7"/><circle cx="776.4" cy="139.9" r="3.7"/><circle cx="863.8" cy="154.7" r="3.7"/><circle cx="794.9" cy="142.0" r="3.7"/><circle cx="801.4" cy="146.8" r="3.7"/><circle cx="938.4" cy="199.1" r="3.7"/><circle cx="927.6" cy="186.3" r="3.7"/><circle cx="931.8" cy="187.8" r="3.7"/><circle cx="848.6" cy="156.8" r="3.7"/><circle cx="849.4" cy="152.2" r="3.7"/><circle cx="857.6" cy="153.0" r="3.7"/><circle cx="772.3" cy="141.0" r="3.7"/><circle cx="889.2" cy="171.5" r="3.7"/><circle cx="847.2" cy="153.4" r="3.7"/><circle cx="895.7" cy="169.4" r="3.7"/><circle cx="798.1" cy="145.1" r="3.7"/><circle cx="857.1" cy="169.5" r="3.7"/><circle cx="906.3" cy="177.1" r="3.7"/><circle cx="889.8" cy="174.5" r="3.7"/><circle cx="838.8" cy="148.1" r="3.7"/><circle cx="906.8" cy="175.9" r="3.7"/><circle cx="813.9" cy="154.0" r="3.7"/><circle cx="902.3" cy="170.2" r="3.7"/><circle cx="908.5" cy="168.1" r="3.7"/><circle cx="919.6" cy="187.4" r="3.7"/><circle cx="888.1" cy="170.3" r="3.7"/><circle cx="839.0" cy="145.1" r="3.7"/><circle cx="892.8" cy="175.2" r="3.7"/><circle cx="849.7" cy="158.7" r="3.7"/><circle cx="771.8" cy="133.7" r="3.7"/><circle cx="876.1" cy="170.8" r="3.7"/><circle cx="809.5" cy="152.9" r="3.7"/><circle cx="827.4" cy="147.9" r="3.7"/><circle cx="882.2" cy="161.7" r="3.7"/><circle cx="836.2" cy="150.2" r="3.7"/><circle cx="940.0" cy="185.9" r="3.7"/><circle cx="899.5" cy="167.5" r="3.7"/><circle cx="936.6" cy="195.9" r="3.7"/><circle cx="895.6" cy="173.1" r="3.7"/><circle cx="813.6" cy="145.6" r="3.7"/><circle cx="803.2" cy="145.4" r="3.7"/><circle cx="833.9" cy="155.3" r="3.7"/><circle cx="924.0" cy="185.5" r="3.7"/><circle cx="866.6" cy="161.4" r="3.7"/><circle cx="939.2" cy="184.5" r="3.7"/><circle cx="783.0" cy="133.2" r="3.7"/><circle cx="871.6" cy="163.7" r="3.7"/><circle cx="928.1" cy="183.6" r="3.7"/><circle cx="797.2" cy="140.1" r="3.7"/><circle cx="854.2" cy="158.6" r="3.7"/><circle cx="841.5" cy="158.7" r="3.7"/><circle cx="859.5" cy="155.9" r="3.7"/><circle cx="818.6" cy="145.4" r="3.7"/><circle cx="881.4" cy="163.2" r="3.7"/><circle cx="891.8" cy="169.2" r="3.7"/><circle cx="820.3" cy="152.3" r="3.7"/><circle cx="777.3" cy="139.4" r="3.7"/><circle cx="796.6" cy="143.1" r="3.7"/><circle cx="922.6" cy="177.7" r="3.7"/><circle cx="930.6" cy="190.9" r="3.7"/><circle cx="782.5" cy="144.5" r="3.7"/><circle cx="851.2" cy="154.2" r="3.7"/><circle cx="935.4" cy="188.8" r="3.7"/><circle cx="929.3" cy="191.7" r="3.7"/><circle cx="908.8" cy="179.8" r="3.7"/><circle cx="872.6" cy="169.2" r="3.7"/><circle cx="847.5" cy="160.7" r="3.7"/><circle cx="804.6" cy="150.6" r="3.7"/><circle cx="947.5" cy="197.2" r="3.7"/><circle cx="966.6" cy="204.3" r="3.7"/><circle cx="955.7" cy="195.2" r="3.7"/><circle cx="974.9" cy="205.5" r="3.7"/><circle cx="971.8" cy="215.0" r="3.7"/><circle cx="999.9" cy="241.3" r="3.7"/><circle cx="954.3" cy="196.8" r="3.7"/><circle cx="946.8" cy="201.7" r="3.7"/><circle cx="977.5" cy="209.5" r="3.7"/><circle cx="961.6" cy="202.7" r="3.7"/><circle cx="973.9" cy="219.8" r="3.7"/><circle cx="975.5" cy="207.9" r="3.7"/><circle cx="951.4" cy="191.2" r="3.7"/><circle cx="992.7" cy="225.9" r="3.7"/><circle cx="942.4" cy="196.2" r="3.7"/><circle cx="965.5" cy="207.8" r="3.7"/><circle cx="977.4" cy="219.9" r="3.7"/><circle cx="944.3" cy="197.3" r="3.7"/><circle cx="945.2" cy="191.2" r="3.7"/><circle cx="977.9" cy="209.6" r="3.7"/><circle cx="962.4" cy="200.8" r="3.7"/><circle cx="960.6" cy="203.5" r="3.7"/><circle cx="740.6" cy="132.1" r="3.7"/><circle cx="656.2" cy="124.8" r="3.7"/><circle cx="749.2" cy="124.7" r="3.7"/><circle cx="668.8" cy="119.4" r="3.7"/><circle cx="697.3" cy="126.6" r="3.7"/><circle cx="689.8" cy="137.7" r="3.7"/><circle cx="728.2" cy="134.8" r="3.7"/><circle cx="714.1" cy="127.8" r="3.7"/><circle cx="740.7" cy="136.4" r="3.7"/><circle cx="689.9" cy="123.8" r="3.7"/><circle cx="653.1" cy="128.6" r="3.7"/><circle cx="651.2" cy="125.3" r="3.7"/><circle cx="716.2" cy="119.2" r="3.7"/><circle cx="680.3" cy="127.5" r="3.7"/><circle cx="744.7" cy="135.1" r="3.7"/><circle cx="729.4" cy="131.5" r="3.7"/><circle cx="651.0" cy="123.8" r="3.7"/><circle cx="733.7" cy="139.1" r="3.7"/><circle cx="678.2" cy="130.1" r="3.7"/><circle cx="738.0" cy="134.9" r="3.7"/><circle cx="689.5" cy="133.8" r="3.7"/><circle cx="716.9" cy="134.7" r="3.7"/><circle cx="699.1" cy="122.3" r="3.7"/><circle cx="748.4" cy="130.1" r="3.7"/><circle cx="693.9" cy="131.9" r="3.7"/><circle cx="766.2" cy="138.2" r="3.7"/><circle cx="688.8" cy="124.0" r="3.7"/><circle cx="689.4" cy="122.9" r="3.7"/><circle cx="692.3" cy="131.5" r="3.7"/><circle cx="666.3" cy="116.7" r="3.7"/><circle cx="713.0" cy="123.9" r="3.7"/><circle cx="752.9" cy="129.1" r="3.7"/><circle cx="742.5" cy="129.6" r="3.7"/><circle cx="758.9" cy="133.2" r="3.7"/><circle cx="709.6" cy="129.1" r="3.7"/><circle cx="727.9" cy="123.0" r="3.7"/><circle cx="748.6" cy="138.8" r="3.7"/><circle cx="746.4" cy="134.6" r="3.7"/><circle cx="651.3" cy="135.5" r="3.7"/><circle cx="761.4" cy="138.6" r="3.7"/><circle cx="785.6" cy="137.9" r="3.7"/><circle cx="868.2" cy="159.6" r="3.7"/><circle cx="856.1" cy="158.3" r="3.7"/><circle cx="870.7" cy="167.1" r="3.7"/><circle cx="840.2" cy="154.0" r="3.7"/><circle cx="817.2" cy="141.3" r="3.7"/><circle cx="896.0" cy="168.5" r="3.7"/><circle cx="842.2" cy="147.8" r="3.7"/><circle cx="865.1" cy="157.6" r="3.7"/><circle cx="878.3" cy="159.5" r="3.7"/><circle cx="875.7" cy="154.4" r="3.7"/><circle cx="879.2" cy="177.3" r="3.7"/><circle cx="855.0" cy="148.1" r="3.7"/><circle cx="840.5" cy="150.9" r="3.7"/><circle cx="827.7" cy="139.5" r="3.7"/><circle cx="633.5" cy="116.0" r="3.7"/><circle cx="620.4" cy="137.0" r="3.7"/><circle cx="620.0" cy="144.6" r="3.7"/><circle cx="581.4" cy="133.4" r="3.7"/><circle cx="579.2" cy="158.8" r="3.7"/><circle cx="650.3" cy="157.5" r="3.7"/><circle cx="650.7" cy="158.9" r="3.7"/><circle cx="649.2" cy="155.4" r="3.7"/><circle cx="670.5" cy="113.7" r="3.7"/><circle cx="665.9" cy="110.4" r="3.7"/><circle cx="680.6" cy="114.9" r="3.7"/><circle cx="680.3" cy="116.1" r="3.7"/><circle cx="692.1" cy="123.4" r="3.7"/><circle cx="691.0" cy="119.0" r="3.7"/><circle cx="692.4" cy="121.5" r="3.7"/><circle cx="616.2" cy="129.2" r="3.7"/><circle cx="614.1" cy="128.5" r="3.7"/><circle cx="615.6" cy="123.6" r="3.7"/><circle cx="667.0" cy="161.9" r="3.7"/><circle cx="668.5" cy="156.3" r="3.7"/><circle cx="710.1" cy="121.7" r="3.7"/><circle cx="712.8" cy="123.5" r="3.7"/><circle cx="717.6" cy="124.9" r="3.7"/><circle cx="730.6" cy="121.8" r="3.7"/><circle cx="728.2" cy="123.4" r="3.7"/><circle cx="729.4" cy="130.5" r="3.7"/><circle cx="738.0" cy="117.6" r="3.7"/><circle cx="740.4" cy="119.2" r="3.7"/><circle cx="745.0" cy="128.5" r="3.7"/><circle cx="746.5" cy="122.8" r="3.7"/><circle cx="772.8" cy="120.7" r="3.7"/><circle cx="771.8" cy="121.1" r="3.7"/><circle cx="773.6" cy="117.7" r="3.7"/><circle cx="774.4" cy="124.6" r="3.7"/><circle cx="777.5" cy="132.6" r="3.7"/><circle cx="779.3" cy="133.0" r="3.7"/><circle cx="735.5" cy="141.3" r="3.7"/><circle cx="734.2" cy="137.9" r="3.7"/><circle cx="733.6" cy="142.2" r="3.7"/><circle cx="732.3" cy="140.3" r="3.7"/><circle cx="761.5" cy="138.6" r="3.7"/><circle cx="765.3" cy="137.5" r="3.7"/><circle cx="764.1" cy="136.8" r="3.7"/><circle cx="754.6" cy="154.8" r="3.7"/><circle cx="754.8" cy="156.5" r="3.7"/><circle cx="706.5" cy="147.9" r="3.7"/><circle cx="704.1" cy="148.5" r="3.7"/><circle cx="783.9" cy="133.2" r="3.7"/><circle cx="781.7" cy="131.5" r="3.7"/><circle cx="783.4" cy="130.6" r="3.7"/><circle cx="786.5" cy="131.9" r="3.7"/><circle cx="787.4" cy="133.8" r="3.7"/><circle cx="790.3" cy="132.6" r="3.7"/><circle cx="803.5" cy="128.1" r="3.7"/><circle cx="808.7" cy="123.9" r="3.7"/><circle cx="809.2" cy="153.8" r="3.7"/><circle cx="807.3" cy="152.0" r="3.7"/><circle cx="806.0" cy="152.6" r="3.7"/><circle cx="812.5" cy="154.0" r="3.7"/><circle cx="820.6" cy="129.1" r="3.7"/><circle cx="819.3" cy="129.3" r="3.7"/><circle cx="820.4" cy="154.0" r="3.7"/><circle cx="821.4" cy="154.0" r="3.7"/><circle cx="826.7" cy="162.3" r="3.7"/><circle cx="828.5" cy="161.8" r="3.7"/><circle cx="848.5" cy="142.6" r="3.7"/><circle cx="850.6" cy="143.6" r="3.7"/><circle cx="848.5" cy="142.7" r="3.7"/><circle cx="873.7" cy="150.5" r="3.7"/><circle cx="873.9" cy="152.2" r="3.7"/><circle cx="872.3" cy="148.3" r="3.7"/><circle cx="855.4" cy="170.5" r="3.7"/><circle cx="855.8" cy="166.0" r="3.7"/><circle cx="879.6" cy="165.6" r="3.7"/><circle cx="879.1" cy="165.7" r="3.7"/><circle cx="871.0" cy="151.0" r="3.7"/><circle cx="873.0" cy="149.4" r="3.7"/><circle cx="869.2" cy="150.3" r="3.7"/><circle cx="884.4" cy="148.5" r="3.7"/><circle cx="883.0" cy="153.9" r="3.7"/><circle cx="883.9" cy="152.8" r="3.7"/><circle cx="899.9" cy="166.1" r="3.7"/><circle cx="904.7" cy="163.7" r="3.7"/><circle cx="900.7" cy="161.6" r="3.7"/><circle cx="879.2" cy="179.0" r="3.7"/><circle cx="876.5" cy="181.5" r="3.7"/><circle cx="902.1" cy="190.6" r="3.7"/><circle cx="898.1" cy="189.1" r="3.7"/><circle cx="917.6" cy="186.6" r="3.7"/><circle cx="918.1" cy="192.4" r="3.7"/><circle cx="918.3" cy="187.7" r="3.7"/><circle cx="915.5" cy="191.4" r="3.7"/><circle cx="918.2" cy="192.0" r="3.7"/><circle cx="922.7" cy="174.4" r="3.7"/><circle cx="920.1" cy="170.5" r="3.7"/><circle cx="945.1" cy="189.0" r="3.7"/><circle cx="943.1" cy="183.0" r="3.7"/><circle cx="944.8" cy="184.8" r="3.7"/><circle cx="944.8" cy="203.4" r="3.7"/><circle cx="945.2" cy="209.4" r="3.7"/><circle cx="945.9" cy="206.9" r="3.7"/><circle cx="971.1" cy="204.7" r="3.7"/><circle cx="970.3" cy="204.1" r="3.7"/><circle cx="971.0" cy="203.2" r="3.7"/><circle cx="971.8" cy="203.4" r="3.7"/><circle cx="983.2" cy="203.3" r="3.7"/><circle cx="979.9" cy="204.3" r="3.7"/><circle cx="986.1" cy="213.4" r="3.7"/><circle cx="983.2" cy="215.1" r="3.7"/><circle cx="969.1" cy="224.6" r="3.7"/><circle cx="969.5" cy="220.5" r="3.7"/><circle cx="968.4" cy="221.4" r="3.7"/><circle cx="955.3" cy="225.2" r="3.7"/><circle cx="958.1" cy="224.5" r="3.7"/><circle cx="932.7" cy="206.5" r="3.7"/><circle cx="932.2" cy="204.9" r="3.7"/><circle cx="644.7" cy="125.7" r="3.7"/><circle cx="646.4" cy="123.3" r="3.7"/><circle cx="646.9" cy="126.0" r="3.7"/><circle cx="659.3" cy="127.6" r="3.7"/><circle cx="657.4" cy="125.3" r="3.7"/><circle cx="657.1" cy="125.7" r="3.7"/><circle cx="669.7" cy="126.6" r="3.7"/><circle cx="670.7" cy="126.9" r="3.7"/><circle cx="670.6" cy="126.3" r="3.7"/><circle cx="684.3" cy="126.6" r="3.7"/><circle cx="680.6" cy="127.8" r="3.7"/><circle cx="680.5" cy="125.0" r="3.7"/><circle cx="693.5" cy="123.7" r="3.7"/><circle cx="688.2" cy="128.0" r="3.7"/><circle cx="695.1" cy="123.7" r="3.7"/><circle cx="632.2" cy="128.7" r="3.7"/><circle cx="630.4" cy="125.5" r="3.7"/><circle cx="631.7" cy="127.0" r="3.7"/><circle cx="601.3" cy="135.4" r="3.7"/><circle cx="604.3" cy="134.1" r="3.7"/><circle cx="604.0" cy="128.7" r="3.7"/><circle cx="670.8" cy="111.6" r="3.7"/><circle cx="671.0" cy="112.6" r="3.7"/><circle cx="688.5" cy="124.1" r="3.7"/><circle cx="690.2" cy="126.3" r="3.7"/><circle cx="675.4" cy="126.6" r="3.7"/><circle cx="679.3" cy="127.7" r="3.7"/><circle cx="691.8" cy="116.2" r="3.7"/><circle cx="692.4" cy="118.6" r="3.7"/></g>
<path d="M156.0,170.5 L160.0,171.7 L164.0,172.8 L168.0,173.9 L172.0,175.0 L176.0,176.1 L180.0,177.1 L184.0,178.1 L188.0,179.0 L192.0,179.9 L196.0,180.8 L200.0,181.7 L204.0,182.5 L208.0,183.3 L212.0,184.0 L216.0,184.8 L220.0,185.5 L224.0,186.2 L228.0,186.8 L232.0,187.5 L236.0,188.0 L240.0,188.6 L244.0,189.2 L248.0,189.7 L252.0,190.2 L256.0,190.7 L260.0,191.1 L264.0,191.5 L268.0,191.9 L272.0,192.3 L276.0,192.7 L280.0,193.0 L284.0,193.3 L288.0,193.5 L292.0,193.8 L296.0,194.0 L300.0,194.2 L304.0,194.3 L308.0,194.4 L312.0,194.5 L316.0,194.5 L320.0,194.5 L324.0,194.5 L328.0,194.4 L332.0,194.2 L336.0,194.0 L340.0,193.8 L344.0,193.5 L348.0,193.2 L352.0,192.8 L356.0,192.4 L360.0,191.9 L364.0,191.4 L368.0,190.8 L372.0,190.2 L376.0,189.6 L380.0,188.9 L384.0,188.2 L388.0,187.5 L392.0,186.7 L396.0,185.9 L400.0,185.1 L404.0,184.2 L408.0,183.3 L412.0,182.4 L416.0,181.4 L420.0,180.4 L424.0,179.4 L428.0,178.4 L432.0,177.4 L436.0,176.3 L440.0,175.3 L444.0,174.2 L448.0,173.1 L452.0,172.0 L456.0,170.9 L460.0,169.7 L464.0,168.6 L468.0,167.4 L472.0,166.3 L476.0,165.1 L480.0,164.0 L484.0,162.8 L488.0,161.7 L492.0,160.5 L496.0,159.3 L500.0,158.2 L504.0,157.1 L508.0,155.9 L512.0,154.8 L516.0,153.7 L520.0,152.6 L524.0,151.5 L528.0,150.4 L532.0,149.3 L536.0,148.3 L540.0,147.2 L544.0,146.2 L548.0,145.2 L552.0,144.3 L556.0,143.3 L560.0,142.4 L564.0,141.5 L568.0,140.6 L572.0,139.8 L576.0,139.0 L580.0,138.2 L584.0,137.5 L588.0,136.7 L592.0,136.1 L596.0,135.4 L600.0,134.8 L604.0,134.3 L608.0,133.7 L612.0,133.2 L616.0,132.7 L620.0,132.3 L624.0,131.9 L628.0,131.5 L632.0,131.2 L636.0,130.9 L640.0,130.6 L644.0,130.4 L648.0,130.1 L652.0,130.0 L656.0,129.8 L660.0,129.7 L664.0,129.6 L668.0,129.6 L672.0,129.5 L676.0,129.6 L680.0,129.6 L684.0,129.7 L688.0,129.8 L692.0,129.9 L696.0,130.1 L700.0,130.3 L704.0,130.5 L708.0,130.7 L712.0,131.0 L716.0,131.3 L720.0,131.7 L724.0,132.0 L728.0,132.4 L732.0,132.8 L736.0,133.3 L740.0,133.8 L744.0,134.3 L748.0,134.8 L752.0,135.4 L756.0,136.0 L760.0,136.6 L764.0,137.2 L768.0,137.9 L772.0,138.6 L776.0,139.3 L780.0,140.1 L784.0,140.9 L788.0,141.7 L792.0,142.5 L796.0,143.3 L800.0,144.2 L804.0,145.1 L808.0,146.1 L812.0,147.0 L816.0,148.0 L820.0,149.0 L824.0,150.0 L828.0,151.1 L832.0,152.2 L836.0,153.3 L840.0,154.4 L844.0,155.6 L848.0,156.7 L852.0,157.9 L856.0,159.2 L860.0,160.4 L864.0,161.7 L868.0,163.0 L872.0,164.3 L876.0,165.6 L880.0,167.0 L884.0,168.4 L888.0,169.8 L892.0,171.3 L896.0,172.7 L900.0,174.2 L904.0,175.7 L908.0,177.3 L912.0,178.8 L916.0,180.4 L920.0,182.1 L924.0,183.8 L928.0,185.6 L932.0,187.4 L936.0,189.3 L940.0,191.3 L944.0,193.4 L948.0,195.5 L952.0,197.8 L956.0,200.2 L960.0,202.7 L964.0,205.3 L968.0,208.0 L972.0,210.9 L976.0,213.9 L980.0,216.9 L984.0,220.1 L988.0,223.4 L992.0,226.7 L996.0,230.2 L1000.0,233.7 L1004.0,237.3 L1008.0,240.9 L1012.0,244.7 L1016.0,248.5 L1020.0,252.5 L1024.0,256.5 L1028.0,260.6 L1032.0,264.8 L1036.0,268.9 L1040.0,273.0 L1044.0,277.0 L1048.0,280.9 L1052.0,284.8 L1056.0,288.6 L1060.0,292.4 L1064.0,296.2 L1068.0,300.0 L1072.0,303.7 L1076.0,307.5 L1080.0,311.3 L1084.0,315.1 L1088.0,319.0 L1092.0,322.9 L1096.0,326.8 L1100.0,330.8 L1104.0,334.8 L1108.0,338.8 L1112.0,342.9 L1116.0,346.9 L1120.0,351.0 L1124.0,355.0 L1128.0,359.1 L1132.0,363.1 L1136.0,367.1 L1140.0,371.1 L1144.0,375.0 L1148.0,378.9 L1152.0,382.8 L1156.0,386.6 L1160.0,390.4 L1164.0,394.2 L1168.0,397.9 L1172.0,401.7 L1176.0,405.4 L1180.0,409.1 L1184.0,412.7 L1188.0,416.4 L1192.0,420.1 L1196.0,423.7 L1200.0,427.3 L1204.0,431.0 L1208.0,434.6 L1212.0,438.2 L1216.0,441.8 L1220.0,445.5 L1224.0,449.1 L1228.0,452.7 L1232.0,456.4 L1236.0,460.0 L1240.0,463.7 L1244.0,467.3 L1248.0,471.0 L1252.0,474.7 L1256.0,478.4 L1260.0,482.2 L1264.0,486.0 L1268.0,489.7 L1272.0,493.6 L1273.4,494.9" fill="none" stroke="#101010" stroke-width="3.1" stroke-linejoin="round"/>
<rect x="101.2" y="15.3" width="1227.3" height="729.7" fill="none" stroke="#b3b3b3" stroke-width="1.55"/>
<g><line x1="143.0" x2="143.0" y1="745.0" y2="753.5" stroke="#b0b0b0" stroke-width="1.4"/><line x1="341.6" x2="341.6" y1="745.0" y2="753.5" stroke="#b0b0b0" stroke-width="1.4"/><line x1="540.2" x2="540.2" y1="745.0" y2="753.5" stroke="#b0b0b0" stroke-width="1.4"/><line x1="738.8" x2="738.8" y1="745.0" y2="753.5" stroke="#b0b0b0" stroke-width="1.4"/><line x1="937.4" x2="937.4" y1="745.0" y2="753.5" stroke="#b0b0b0" stroke-width="1.4"/><line x1="1136.0" x2="1136.0" y1="745.0" y2="753.5" stroke="#b0b0b0" stroke-width="1.4"/><line x1="93.3" x2="101.2" y1="230.0" y2="230.0" stroke="#b0b0b0" stroke-width="1.4"/><line x1="93.3" x2="101.2" y1="453.5" y2="453.5" stroke="#b0b0b0" stroke-width="1.4"/><line x1="93.3" x2="101.2" y1="677.0" y2="677.0" stroke="#b0b0b0" stroke-width="1.4"/></g>
<text class="tk" x="143.0" y="775.6" text-anchor="middle">-3</text><text class="tk" x="341.6" y="775.6" text-anchor="middle">-2</text><text class="tk" x="540.2" y="775.6" text-anchor="middle">-1</text><text class="tk" x="738.8" y="775.6" text-anchor="middle">0</text><text class="tk" x="937.4" y="775.6" text-anchor="middle">1</text><text class="tk" x="1136.0" y="775.6" text-anchor="middle">2</text><text class="tk" x="86.7" y="238.6" text-anchor="end">0</text><text class="tk" x="86.7" y="462.1" text-anchor="end">-10</text><text class="tk" x="86.7" y="685.6" text-anchor="end">-20</text>
<text class="tt" x="714.8" y="808.6" text-anchor="middle">depth_scaled</text>
<text class="tt" transform="translate(35.5,380) rotate(-90)" text-anchor="middle">visregFit</text>
</svg></body></html>
